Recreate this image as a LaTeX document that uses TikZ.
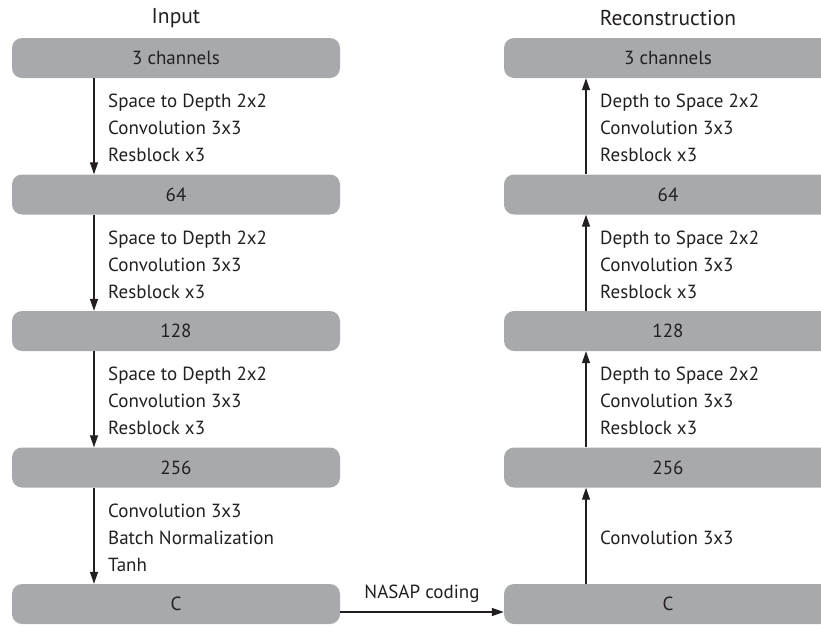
\documentclass[tikz,border=0pt]{standalone}
\usepackage{fontspec}
\setmainfont{PT Sans}
\usetikzlibrary{arrows.meta,calc}
\definecolor{boxgray}{HTML}{A7A9AC}
\definecolor{ink}{HTML}{231F20}
\begin{document}
\begin{tikzpicture}[x=1pt,y=-1pt,
  layer/.style={fill=boxgray, rounded corners=10pt, minimum width=328pt, minimum height=40pt,
    inner sep=0pt, text=ink, font=\fontsize{19}{22}\selectfont},
  lbl/.style={anchor=west, align=left, text=ink, inner sep=0pt,
    font=\fontsize{19}{27}\selectfont},
  ttl/.style={text=ink, inner sep=0pt, font=\fontsize{21.5}{25}\selectfont},
  flow/.style={line width=1.3pt, draw=ink, -{Triangle[length=12pt,width=8pt]}}]
\clip (0,0) rectangle (821,625);
% left column
\node[layer] (L1) at (176,58) {3 channels};
\node[layer] (L2) at (176,194.5) {64};
\node[layer] (L3) at (176,331) {128};
\node[layer] (L4) at (176,467.5) {256};
\node[layer] (L5) at (176,604) {C};
% right column
\node[layer] (R1) at (668,58) {3 channels};
\node[layer] (R2) at (668,194.5) {64};
\node[layer] (R3) at (668,331) {128};
\node[layer] (R4) at (668,467.5) {256};
\node[layer] (R5) at (668,604) {C};
% titles
\node[ttl] (tin) at (176,18) {Input};
\node[ttl] (trec) at (668,18) {Reconstruction};
% left arrows
\foreach \a/\b in {L1/L2,L2/L3,L3/L4,L4/L5}{
  \draw[flow] ([xshift=-82pt]\a.south) -- ([xshift=-82pt]\b.north);
}
% right arrows
\foreach \a/\b in {R5/R4,R4/R3,R3/R2,R2/R1}{
  \draw[flow] ([xshift=-82pt]\a.north) -- ([xshift=-82pt]\b.south);
}
% labels left
\node[lbl] (la) at ($(L1.south)!0.5!(L2.north)+(-68,2)$) {Space to Depth 2x2\\Convolution 3x3\\Resblock x3};
\node[lbl] (lb) at ($(L2.south)!0.5!(L3.north)+(-68,2)$) {Space to Depth 2x2\\Convolution 3x3\\Resblock x3};
\node[lbl] (lc) at ($(L3.south)!0.5!(L4.north)+(-68,2)$) {Space to Depth 2x2\\Convolution 3x3\\Resblock x3};
\node[lbl] (ld) at ($(L4.south)!0.5!(L5.north)+(-68,2)$) {Convolution 3x3\\Batch Normalization\\Tanh};
% labels right
\node[lbl] (ra) at ($(R1.south)!0.5!(R2.north)+(-68,2)$) {Depth to Space 2x2\\Convolution 3x3\\Resblock x3};
\node[lbl] (rb) at ($(R2.south)!0.5!(R3.north)+(-68,2)$) {Depth to Space 2x2\\Convolution 3x3\\Resblock x3};
\node[lbl] (rc) at ($(R3.south)!0.5!(R4.north)+(-68,2)$) {Depth to Space 2x2\\Convolution 3x3\\Resblock x3};
\node[lbl] (rd) at ($(R4.south)!0.5!(R5.north)+(-68,2)$) {Convolution 3x3};
% coding arrow
\draw[flow] ([yshift=-8pt]L5.east) -- node[above=9pt, text=ink, inner sep=0pt, font=\fontsize{19}{22}\selectfont] (nasap) {NASAP coding} ([yshift=-8pt]R5.west);
\end{tikzpicture}
\end{document}
